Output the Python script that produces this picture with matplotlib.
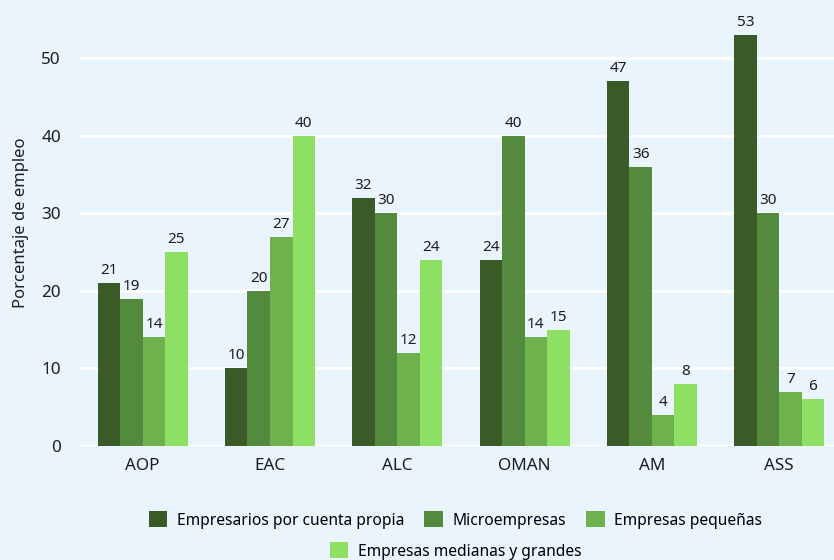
import matplotlib
matplotlib.use("Agg")
import matplotlib.pyplot as plt
from matplotlib.patches import Patch
import numpy as np

plt.rcParams['font.family'] = ['Noto Sans', 'DejaVu Sans']

regions = ['AOP', 'EAC', 'ALC', 'OMAN', 'AM', 'ASS']
cuenta_propia = [21, 10, 32, 24, 47, 53]
micro = [19, 20, 30, 40, 36, 30]
pequenas = [14, 27, 12, 14, 4, 7]
medianas = [25, 40, 24, 15, 8, 6]

series = [
    ('Empresarios por cuenta propia', cuenta_propia, '#3a5a28'),
    ('Microempresas', micro, '#548a3e'),
    ('Empresas pequeñas', pequenas, '#6eb24e'),
    ('Empresas medianas y grandes', medianas, '#8ee065'),
]

bg = '#eaf4fd'
txt = '#1e1e1e'
fig = plt.figure(figsize=(8.34, 5.6), dpi=100, facecolor=bg)
ax = fig.add_axes([79/834, 114/560, 1 - 79/834, 1 - 114/560])
ax.set_facecolor(bg)

x = np.arange(len(regions))
w = 0.177
for i, (name, vals, col) in enumerate(series):
    xs = x + (i - 1.5) * w
    ax.bar(xs, vals, width=w, color=col, zorder=3)
    for xi, v in zip(xs, vals):
        ax.annotate(str(v), (xi, v), xytext=(0, 6.5), textcoords='offset points',
                    ha='center', va='baseline', fontsize=11, color=txt, zorder=4)

ax.set_xlim(-0.5, 5.43)
ax.set_ylim(0, 57.5)
ax.set_yticks([0, 10, 20, 30, 40, 50])
ax.set_xticks(x)
ax.set_xticklabels(regions)
ax.grid(axis='y', color='white', linewidth=2, zorder=0)
ax.axhline(0, color='white', linewidth=2.5, zorder=2)
for s in ax.spines.values():
    s.set_visible(False)
ax.tick_params(axis='both', length=0, labelsize=12.3, colors=txt)
ax.tick_params(axis='y', pad=13)
ax.tick_params(axis='x', pad=9)
ax.set_ylabel('Porcentaje de empleo', fontsize=12, color=txt, labelpad=9)

handles = [Patch(facecolor=c, label=n) for n, _, c in series]
fig.legend(handles=handles[:3], loc='center', bbox_to_anchor=(0.546, 1 - 520/560),
           ncol=3, frameon=False, fontsize=11.2, handlelength=1.2, handleheight=1.2,
           columnspacing=1.3, handletextpad=0.6)
fig.legend(handles=handles[3:], loc='center', bbox_to_anchor=(0.546, 1 - 551/560),
           ncol=1, frameon=False, fontsize=11.2, handlelength=1.2, handleheight=1.2,
           handletextpad=0.6)

fig.savefig('out.png', dpi=100, facecolor=bg)
